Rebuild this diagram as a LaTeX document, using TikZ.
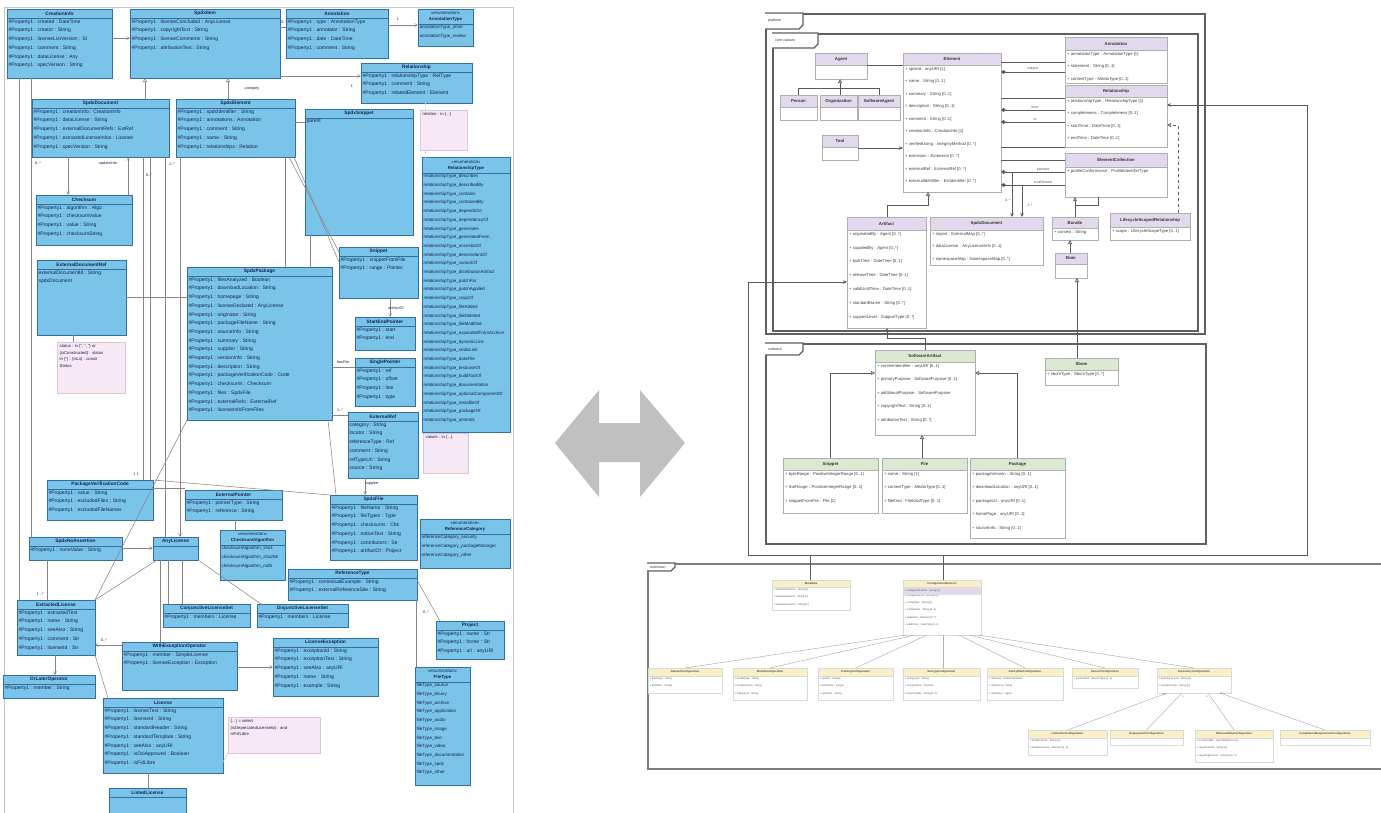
\documentclass[tikz,border=0pt]{standalone}
\usepackage{fontspec}
\setmainfont{Liberation Sans}
\usetikzlibrary{calc,arrows.meta}
\definecolor{lfill}{RGB}{122,196,234}
\definecolor{ldraw}{RGB}{48,112,166}
\definecolor{ltext}{RGB}{20,35,70}
\definecolor{nfill}{RGB}{246,232,244}
\definecolor{ndraw}{RGB}{222,196,218}
\definecolor{pfill}{RGB}{226,218,236}
\definecolor{gfill}{RGB}{218,234,210}
\definecolor{yfill}{RGB}{250,240,200}
\definecolor{rdraw}{RGB}{175,175,175}
\definecolor{frm}{RGB}{95,95,95}
\definecolor{lconn}{RGB}{140,132,132}
\definecolor{rconn}{RGB}{90,90,90}
\definecolor{bigarrow}{RGB}{192,192,192}
\tikzset{
  Lbox/.style={draw=ldraw, fill=lfill, line width=0.7pt, inner sep=0pt, outer sep=0pt},
  Lhead/.style={draw=ldraw, line width=0.7pt},
  Ltitle/.style={font=\fontsize{4.8}{5.6}\selectfont\bfseries, text=ltext, align=center, inner sep=0pt},
  Lattr/.style={font=\fontsize{5}{8.7}\selectfont, text=ltext, align=left, inner sep=1.4pt},
  Ebox/.style={Lbox}, Ehead/.style={Lhead},
  Etitle/.style={Ltitle, font=\fontsize{4.4}{6}\selectfont\bfseries},
  Eattr/.style={Lattr, font=\fontsize{4.5}{8.7}\selectfont},
  Pbox/.style={draw=rdraw, fill=white, line width=0.6pt, inner sep=0pt, outer sep=0pt},
  Phead/.style={draw=rdraw, fill=pfill, line width=0.6pt},
  Ptitle/.style={font=\fontsize{4.3}{5}\selectfont\bfseries, text=black!80, inner sep=0pt},
  Pattr/.style={font=\fontsize{4.2}{12.5}\selectfont, text=black!75, align=left, inner sep=2pt},
  Qbox/.style={Pbox}, Qhead/.style={Phead}, Qtitle/.style={Ptitle},
  Qattr/.style={Pattr, font=\fontsize{4.2}{13.8}\selectfont},
  Gbox/.style={Pbox}, Ghead/.style={Phead, fill=gfill}, Gtitle/.style={Ptitle},
  Gattr/.style={Pattr, font=\fontsize{4.2}{13.5}\selectfont},
  Ybox/.style={Pbox, line width=0.4pt, draw=black!15},
  Yhead/.style={fill=yfill, draw=black!15, line width=0.4pt},
  Ytitle/.style={font=\fontsize{2.8}{3}\selectfont\bfseries, text=black!70, inner sep=0pt},
  Yattr/.style={font=\fontsize{2.6}{7.4}\selectfont, text=black!65, align=left, inner sep=1.5pt},
  note/.style={draw=ndraw, fill=nfill, line width=0.5pt, inner sep=0pt},
  ntext/.style={font=\fontsize{4.2}{6.5}\selectfont, text=ltext, align=left, inner sep=2.5pt},
  lc/.style={draw=lconn, line width=0.55pt},
  lbarb/.style={-{Straight Barb[length=3pt,width=3pt]}},
  ltri/.style={-{Triangle[open,length=4pt,width=4pt]}},
  lab/.style={font=\fontsize{3.8}{4}\selectfont, text=ltext, inner sep=0.5pt},
  rc/.style={draw=rconn, line width=0.7pt},
  rtri/.style={-{Triangle[open,length=4pt,width=4pt]}},
  rarr/.style={-{Stealth[length=4pt,width=3.5pt]}},
  rdia/.style={{Diamond[length=5pt,width=4pt]}-},
  rlab/.style={font=\fontsize{3.4}{4}\selectfont, text=black!70, inner sep=0.5pt},
  pkgframe/.style={draw=frm, line width=1.6pt, inner sep=0pt},
  tabtext/.style={font=\fontsize{3.6}{4}\selectfont, text=black!80, inner sep=0pt},
  yc/.style={draw=black!30, line width=0.5pt},
}
% name, x, y, w, h, header height, style prefix, title, lines
\newcommand{\ubox}[9]{%
  \node[#7box, anchor=north west, minimum width=#4pt, minimum height=#5pt] (#1) at (#2,#3) {};
  \path[#7head] (#1.north west) rectangle ([yshift=-#6pt]#1.north east);
  \node[#7title] (#1t) at ([yshift=-#6pt/2]#1.north) {#8};
  \node[#7attr, anchor=north west] (#1a) at ([yshift=-#6pt]#1.north west) {#9};
}
% name, x, y, w, h, text
\newcommand{\pkgtab}[6]{%
  \draw[draw=frm, line width=1.1pt, fill=white] (#2,#3) -- ++(#4,0) -- ++(0,#5-4) -- ++(-4,4) -- (#2,#3+#5);
  \node[tabtext, anchor=west] (#1) at (#2+3,#3+#5/2) {#6};
}
\begin{document}
\begin{tikzpicture}[x=1pt,y=-1pt]
\useasboundingbox (0,0) rectangle (1381,812);
\fill[white] (0,0) rectangle (1381,812);

% ================= LEFT DIAGRAM =================
\node[draw=black!22, line width=0.6pt, minimum width=509pt, minimum height=812pt, anchor=north west, inner sep=0pt] (leftframe) at (4,7) {};

\ubox{b1}{7}{9}{105}{69}{9}{L}{CreationInfo}{\#Property1 : created : DateTime\\\#Property1 : creator : String\\\#Property1 : licenseListVersion : St\\\#Property1 : comment : String\\\#Property1 : dataLicense : Any\\\#Property1 : specVersion : String}
\ubox{b2}{130}{9}{150}{69}{9}{L}{SpdxItem}{\#Property1 : licenseConcluded : AnyLicense\\\#Property1 : copyrightText : String\\\#Property1 : licenseComments : String\\\#Property1 : attributionText : String}
\ubox{b3}{286}{9}{102}{49}{9}{L}{Annotation}{\#Property1 : type : AnnotationType\\\#Property1 : annotator : String\\\#Property1 : date : DateTime\\\#Property1 : comment : String}
\ubox{b4}{418}{9}{55}{37}{15}{E}{{\mdseries «enumeration»}\\AnnotationType}{annotationType\_other\\annotationType\_review}
\ubox{b5}{361}{63}{111}{40}{9}{L}{Relationship}{\#Property1 : relationshipType : RelType\\\#Property1 : comment : String\\\#Property1 : relatedElement : Element}
\ubox{b6}{32}{99}{137}{58}{9}{L}{SpdxDocument}{\#Property1 : creationInfo : CreationInfo\\\#Property1 : dataLicense : String\\\#Property1 : externalDocumentRefs : ExtRef\\\#Property1 : extractedLicenseInfos : License\\\#Property1 : specVersion : String}
\ubox{b7}{176}{99}{119}{58}{9}{L}{SpdxElement}{\#Property1 : spdxIdentifier : String\\\#Property1 : annotations : Annotation\\\#Property1 : comment : String\\\#Property1 : name : String\\\#Property1 : relationships : Relation}
\ubox{b8}{305}{109}{108}{126}{9}{L}{SpdxSnippet}{parent}
\ubox{b9}{422}{157}{88}{275}{16}{E}{{\mdseries «enumeration»}\\RelationshipType}{relationshipType\_describes\\relationshipType\_describedBy\\relationshipType\_contains\\relationshipType\_containedBy\\relationshipType\_dependsOn\\relationshipType\_dependencyOf\\relationshipType\_generates\\relationshipType\_generatedFrom\\relationshipType\_ancestorOf\\relationshipType\_descendantOf\\relationshipType\_variantOf\\relationshipType\_distributionArtifact\\relationshipType\_patchFor\\relationshipType\_patchApplied\\relationshipType\_copyOf\\relationshipType\_fileAdded\\relationshipType\_fileDeleted\\relationshipType\_fileModified\\relationshipType\_expandedFromArchive\\relationshipType\_dynamicLink\\relationshipType\_staticLink\\relationshipType\_dataFile\\relationshipType\_testcaseOf\\relationshipType\_buildToolOf\\relationshipType\_documentation\\relationshipType\_optionalComponentOf\\relationshipType\_metafileOf\\relationshipType\_packageOf\\relationshipType\_amends}
\ubox{b11}{36}{195}{96}{50}{9}{L}{Checksum}{\#Property1 : algorithm : Algo\\\#Property1 : checksumValue\\\#Property1 : value : String\\\#Property1 : checksumString}
\ubox{b12}{37}{260}{89}{75}{9}{L}{ExternalDocumentRef}{externalDocumentId : String\\spdxDocument}
\ubox{b14}{187}{267}{145}{153}{9}{L}{SpdxPackage}{\#Property1 : filesAnalyzed : Boolean\\\#Property1 : downloadLocation : String\\\#Property1 : homepage : String\\\#Property1 : licenseDeclared : AnyLicense\\\#Property1 : originator : String\\\#Property1 : packageFileName : String\\\#Property1 : sourceInfo : String\\\#Property1 : summary : String\\\#Property1 : supplier : String\\\#Property1 : versionInfo : String\\\#Property1 : description : String\\\#Property1 : packageVerificationCode : Code\\\#Property1 : checksums : Checksum\\\#Property1 : files : SpdxFile\\\#Property1 : externalRefs : ExternalRef\\\#Property1 : licenseInfoFromFiles}
\ubox{b15}{339}{247}{79}{51}{9}{L}{Snippet}{\#Property1 : snippetFromFile\\\#Property1 : range : Pointer}
\ubox{b16}{355}{317}{60}{33}{9}{L}{StartEndPointer}{\#Property1 : start\\\#Property1 : end}
\ubox{b17}{355}{358}{60}{48}{9}{L}{SinglePointer}{\#Property1 : ref\\\#Property1 : offset\\\#Property1 : line\\\#Property1 : type}
\ubox{b18}{348}{412}{70}{66}{9}{L}{ExternalRef}{category : String\\locator : String\\referenceType : Ref\\comment : String\\refTypeUri : String\\source : String}
\ubox{b20}{47}{480}{106}{40}{9}{L}{PackageVerificationCode}{\#Property1 : value : String\\\#Property1 : excludedFiles : String\\\#Property1 : excludedFileNames}
\ubox{b21}{185}{490}{97}{30}{9}{L}{ExternalPointer}{\#Property1 : pointerType : String\\\#Property1 : reference : String}
\ubox{b22}{29}{537}{93}{23}{9}{L}{SpdxNoAssertion}{\#Property1 : noneValue : String}
\ubox{b23}{153}{537}{45}{23}{9}{L}{AnyLicense}{}
\ubox{b24}{220}{530}{65}{50}{15}{E}{{\mdseries «enumeration»}\\ChecksumAlgorithm}{checksumAlgorithm\_sha1\\checksumAlgorithm\_sha256\\checksumAlgorithm\_md5}
\ubox{b25}{330}{495}{87}{65}{9}{L}{SpdxFile}{\#Property1 : fileName : String\\\#Property1 : fileTypes : Type\\\#Property1 : checksums : Chk\\\#Property1 : noticeText : String\\\#Property1 : contributors : Str\\\#Property1 : artifactOf : Project}
\ubox{b26}{420}{519}{90}{49}{15}{E}{{\mdseries «enumeration»}\\ReferenceCategory}{referenceCategory\_security\\referenceCategory\_packageManager\\referenceCategory\_other}
\ubox{b27}{288}{569}{129}{31}{9}{L}{ReferenceType}{\#Property1 : contextualExample : String\\\#Property1 : externalReferenceSite : String}
\ubox{b28}{17}{600}{78}{55}{9}{L}{ExtractedLicense}{\#Property1 : extractedText\\\#Property1 : name : String\\\#Property1 : seeAlso : String\\\#Property1 : comment : Str\\\#Property1 : licenseId : Str}
\ubox{b29}{163}{604}{87}{23}{9}{L}{ConjunctiveLicenseSet}{\#Property1 : members : License}
\ubox{b30}{257}{604}{91}{23}{9}{L}{DisjunctiveLicenseSet}{\#Property1 : members : License}
\ubox{b31}{122}{642}{115}{48}{9}{L}{WithExceptionOperator}{\#Property1 : member : SimpleLicense\\\#Property1 : licenseException : Exception}
\ubox{b32}{273}{638}{105}{58}{9}{L}{LicenseException}{\#Property1 : exceptionId : String\\\#Property1 : exceptionText : String\\\#Property1 : seeAlso : anyURI\\\#Property1 : name : String\\\#Property1 : example : String}
\ubox{b33}{436}{621}{68}{38}{9}{L}{Project}{\#Property1 : name : Str\\\#Property1 : home : Str\\\#Property1 : uri : anyURI}
\ubox{b34}{3}{675}{92}{23}{9}{L}{OrLaterOperator}{\#Property1 : member : String}
\ubox{b35}{103}{698}{120}{75}{9}{L}{License}{\#Property1 : licenseText : String\\\#Property1 : licenseId : String\\\#Property1 : standardHeader : String\\\#Property1 : standardTemplate : String\\\#Property1 : seeAlso : anyURI\\\#Property1 : isOsiApproved : Boolean\\\#Property1 : isFsfLibre}
\ubox{b37}{415}{667}{55}{118}{15}{E}{{\mdseries «enumeration»}\\FileType}{fileType\_source\\fileType\_binary\\fileType\_archive\\fileType\_application\\fileType\_audio\\fileType\_image\\fileType\_text\\fileType\_video\\fileType\_documentation\\fileType\_spdx\\fileType\_other}
\ubox{b38}{109}{788}{77}{30}{9}{L}{ListedLicense}{}

% notes
\node[note, anchor=north west, minimum width=47pt, minimum height=40pt] (n1) at (420,110) {};
\node[ntext, anchor=north west] (n1t) at (n1.north west) {relation : in \{...\}};
\node[note, anchor=north west, minimum width=68pt, minimum height=51pt] (n2) at (57,342) {};
\node[ntext, anchor=north west] (n2t) at (n2.north west) {status : in \{'', '', ''\} or\\\{isConstructed\} : status\\in \{''\} : \{isLs\} : constr\\Status};
\node[note, anchor=north west, minimum width=45pt, minimum height=40pt] (n3) at (423,433) {};
\node[ntext, anchor=north west] (n3t) at (n3.north west) {values : in \{...\}};
\node[note, anchor=north west, minimum width=92pt, minimum height=36pt] (n4) at (228,717) {};
\node[ntext, anchor=north west] (n4t) at (n4.north west) {\{...\} = select\\(isDeprecatedLicenseId) : and\\isFsfLibre};

% left connectors
\draw[lc, lbarb] (b1.east |- 0,38) -- (b2.west |- 0,38);
\draw[lc] (b2.east |- 0,27) -- (b3.west |- 0,27);
\node[lab] (l1) at (284,22) {0..*};
\draw[lc, lbarb] (b3.east |- 0,25) -- (b4.west |- 0,25);
\node[lab] (l2) at (398,19) {1};
\draw[lc, lbarb] (b2.east |- 0,76) -- (b5.west |- 0,76);
\node[lab] (l3) at (352,86) {1};
\draw[lc, ltri] (b6.north -| 145,0) -- (b2.south -| 145,0);
\draw[lc, ltri] (b7.north -| 228,0) -- (b2.south -| 228,0);
\node[lab] (l4) at (252,89) {category};
\draw[lc] (b7.east |- 0,122) -- (b8.west |- 0,122);
\draw[draw=ndraw, line width=0.6pt, dashed] (b5.south -| 425,0) -- (n1.north -| 425,0);
\draw[draw=ndraw, line width=0.6pt, dashed] (n1.south -| 425,0) -- (b9.north -| 425,0);
\draw[lc, lbarb] (b6.south -| 68,0) -- (b11.north -| 68,0);
\draw[lc, lbarb] (b11.north -| 128,0) -- (b6.south -| 128,0);
\node[lab] (l5) at (108,164) {updateInfo};
\node[lab] (l6) at (38,163) {0..*};
\draw[lc] (b6.south -| 143,0) -- (b20.north -| 143,0);
\draw[lc] (b6.south -| 150,0) -- (b20.north -| 150,0);
\node[lab] (l7) at (149,175) {0..*};
\node[lab] (l8) at (136,474) {1 1};
\draw[lc] (b6.south -| 165,0) -- (b23.north -| 165,0);
\draw[lc, lbarb] (b7.south -| 180,0) -- (b23.north -| 180,0);
\node[lab] (l9) at (172,164) {1..*};
\draw[lc] (b1.south -| 19,0) -- (b28.north -| 19,0);
\draw[lc] (b1.south -| 31,0) -- (b22.north -| 31,0);
\draw[lc] (b12.east |- 0,297) -- (b14.west |- 0,297);
\draw[lc] (b7.south -| 285,0) -- (b14.north -| 285,0);
\draw[lc] (b8.south -| 310,0) -- (b14.north -| 310,0);
\draw[lc] ($(b7.south east)+(-1,0)$) -- (b15.west |- 0,262);
\draw[lc] ($(b7.south east)+(-6,0)$) -- (b15.west |- 0,252);
\draw[lc] (b14.east |- 0,367) -- (b17.west |- 0,367);
\node[lab] (l10) at (343,362) {hasFile};
\draw[lc] (b14.east |- 0,415) -- (b18.west |- 0,415);
\node[lab] (l11) at (340,410) {1..*};
\draw[lc, lbarb] (b15.south -| 390,0) -- (b16.north -| 390,0);
\node[lab] (l12) at (396,308) {artifactOf};
\draw[lc] (b12.south -| 73,0) -- (n2.north -| 73,0);
\draw[lc] (b14.south west) -- (b28.north east);
\draw[lc] (b20.north east) -- (b25.north west);
\draw[lc] ($(b14.south east)+(-4,0)$) -- ($(b25.north west)+(6,0)$);
\draw[lc, lbarb] (b18.south -| 365,0) -- (b25.north -| 365,0);
\node[lab] (l13) at (372,484) {supplier};
\draw[lc] (b20.east |- 0,488) -- (b21.west |- 0,488);
\draw[lc] (b21.south -| 235,0) -- (b24.north -| 235,0);
\draw[lc, lbarb] (b22.east |- 0,548) -- (b23.west |- 0,548);
\draw[lc] (b22.south -| 47,0) -- (b28.north -| 47,0);
\draw[lc] (b23.south -| 157,0) -- (b28.north east);
\draw[lc] (b23.south -| 168,0) -- (b29.north -| 168,0);
\draw[lc] (b23.south -| 182,0) -- (b29.north -| 182,0);
\draw[lc] (b23.south east) -- ($(b30.north west)+(4,0)$);
\draw[lc] (b23.south -| 160,0) -- (b31.north -| 160,0);
\node[lab] (l14) at (40,594) {1 ..*};
\draw[lc, lbarb] (b31.west |- 0,645) -- (b28.east |- 0,645);
\node[lab] (l15) at (104,640) {0..*};
\draw[lc, lbarb] (b28.south -| 55,0) -- (b34.north -| 55,0);
\draw[lc] (b28.south east) -- ($(b35.north west)+(5,0)$);
\draw[lc, lbarb] (b31.east |- 0,667) -- (b32.west |- 0,667);
\draw[lc] (b35.south -| 148,0) -- (b38.north -| 148,0);
\draw[draw=ndraw, line width=0.6pt] (b35.east |- 0,762) -- (n4.south west);
\draw[lc] (b27.east |- 0,580) -- (b33.north -| 440,0);
\node[lab] (l16) at (426,612) {0..*};
\draw[lc] (b27.south -| 416,0) -- (b37.north -| 416,0);

% ================= BIG DOUBLE ARROW =================
\fill[bigarrow] (555,443) -- (599,390) -- (599,423) -- (640,423) -- (640,390) -- (685,443) -- (640,497) -- (640,462) -- (599,462) -- (599,497) -- cycle;

% ================= RIGHT DIAGRAM =================
\node[pkgframe, anchor=north west, minimum width=439pt, minimum height=320pt] (platform) at (765,13) {};
\node[pkgframe, anchor=north west, minimum width=425pt, minimum height=297pt] (core) at (772,33) {};
\node[pkgframe, anchor=north west, minimum width=440pt, minimum height=200pt] (swpkg) at (765,343) {};
\node[pkgframe, anchor=north west, minimum width=760pt, minimum height=205pt, draw=frm!80] (extpkg) at (647,563) {};
\pkgtab{tab1}{765}{13}{38}{16}{platform}
\pkgtab{tab2}{772}{33}{46}{15}{core classes}
\pkgtab{tab3}{765}{343}{38}{12}{software}
\pkgtab{tab4}{647}{563}{28}{8}{extension}

\ubox{agent}{815}{53}{52}{26}{12}{P}{Agent}{}
\ubox{person}{780}{95}{37}{25}{12}{P}{Person}{}
\ubox{org}{820}{95}{37}{25}{12}{P}{Organization}{}
\ubox{swagent}{858}{95}{42}{25}{12}{P}{SoftwareAgent}{}
\ubox{tool}{822}{135}{36}{25}{12}{P}{Tool}{}
\ubox{elem}{903}{53}{98}{139}{12}{P}{Element}{+ spdxId : anyURI [1]\\+ name : String [0..1]\\+ summary : String [0..1]\\+ description : String [0..1]\\+ comment : String [0..1]\\+ creationInfo : CreationInfo [1]\\+ verifiedUsing : IntegrityMethod [0..*]\\+ extension : Extension [0..*]\\+ externalRef : ExternalRef [0..*]\\+ externalIdentifier : ExtIdentifier [0..*]}
\ubox{annot}{1065}{37}{102}{46}{13}{P}{Annotation}{+ annotationType : AnnotationType [1]\\+ statement : String [0..1]\\+ contentType : MediaType [0..1]}
\ubox{rel}{1065}{85}{102}{62}{12}{P}{Relationship}{+ relationshipType : RelationshipType [1]\\+ completeness : Completeness [0..1]\\+ startTime : DateTime [0..1]\\+ endTime : DateTime [0..1]}
\ubox{ecol}{1065}{153}{102}{44}{14}{P}{ElementCollection}{+ profileConformance : ProfileIdentifierType}
\ubox{artifact}{847}{217}{79}{111}{13}{Q}{Artifact}{+ originatedBy : Agent [0..*]\\+ suppliedBy : Agent [0..*]\\+ builtTime : DateTime [0..1]\\+ releaseTime : DateTime [0..1]\\+ validUntilTime : DateTime [0..1]\\+ standardName : String [0..*]\\+ supportLevel : SupportType [0..*]}
\ubox{sdoc}{930}{217}{113}{48}{13}{P}{SpdxDocument}{+ import : ExternalMap [0..*]\\+ dataLicense : AnyLicenseInfo [0..1]\\+ namespaceMap : NamespaceMap [0..*]}
\ubox{bundle}{1052}{217}{46}{23}{11}{P}{Bundle}{+ context : String}
\ubox{bom}{1055}{253}{32}{25}{11}{P}{Bom}{}
\ubox{lsr}{1110}{213}{80}{27}{14}{P}{LifecycleScopedRelationship}{+ scope : LifecycleScopeType [0..1]}

\ubox{swa}{875}{350}{100}{85}{12}{G}{SoftwareArtifact}{+ contentIdentifier : anyURI [0..1]\\+ primaryPurpose : SoftwarePurpose [0..1]\\+ additionalPurpose : SoftwarePurpose\\+ copyrightText : String [0..1]\\+ attributionText : String [0..*]}
\ubox{sbom}{1045}{358}{73}{27}{12}{G}{Sbom}{+ sbomType : SbomType [0..*]}
\ubox{snip}{783}{458}{95}{55}{12}{G}{Snippet}{+ byteRange : PositiveIntegerRange [0..1]\\+ lineRange : PositiveIntegerRange [0..1]\\+ snippetFromFile : File [1]}
\ubox{file}{882}{458}{85}{55}{12}{G}{File}{+ name : String [1]\\+ contentType : MediaType [0..1]\\+ fileKind : FileKindType [0..1]}
\ubox{pkg}{970}{458}{95}{80}{12}{G}{Package}{+ packageVersion : String [0..1]\\+ downloadLocation : anyURI [0..1]\\+ packageUrl : anyURI [0..1]\\+ homePage : anyURI [0..1]\\+ sourceInfo : String [0..1]}

% extension package classes
\ubox{ya}{772}{580}{78}{30}{7}{Y}{Metadata}{+ metadataVersion : String [1]\\+ metadataSource : String [1]\\+ metadataLicense : String [1]}
\ubox{yb}{903}{580}{78}{55}{7}{Y}{ConfigurationElement}{\mbox{}\\+ configurationId : anyURI [1]\\+ configType : String [1]\\+ configValue : String [0..1]\\+ appliesTo : Element [0..*]\\+ validFrom : DateTime [0..1]}
\fill[pfill] ($(yb.north west)+(0.5,7.5)$) rectangle ($(yb.north east)+(-0.5,14.5)$);
\node[Yattr, anchor=west] (ybh) at ($(yb.north west)+(0,11)$) {+ configurationKind : String [1]};
\ubox{c1}{648}{668}{74}{25}{8}{Y}{DatasetConfiguration}{+ dataType : String\\+ dataSize : Integer}
\ubox{c2}{733}{668}{74}{32}{8}{Y}{ModelConfiguration}{+ modelType : String\\+ modelVersion : String\\+ framework : String}
\ubox{c3}{818}{668}{75}{32}{8}{Y}{TrainingConfiguration}{+ epochs : Integer\\+ batchSize : Integer\\+ optimizer : String}
\ubox{c4}{903}{668}{77}{32}{8}{Y}{EnergyConfiguration}{+ energyUnit : String\\+ energyValue : Decimal\\+ measuredBy : String [0..1]}
\ubox{c5}{987}{668}{76}{32}{8}{Y}{SafetyRiskConfiguration}{+ riskLevel : RiskAssessment\\+ riskSource : String\\+ riskOwner : Agent}
\ubox{c6}{1072}{668}{66}{20}{8}{Y}{SensorConfiguration}{+ sensorKind : SensorType [0..1]}
\ubox{c7}{1157}{668}{74}{25}{8}{Y}{AutonomyConfiguration}{+ autonomyLevel : String [1]\\+ humanInLoop : String [1]}
\ubox{d1}{1028}{730}{79}{25}{8}{Y}{LimitationConfiguration}{+ limitationKind : String [1]\\+ limitationScope : Element [0..1]}
\ubox{d2}{1110}{730}{73}{15}{8}{Y}{DeploymentConfiguration}{}
\ubox{d3}{1195}{730}{78}{32}{8}{Y}{ObservabilityConfiguration}{+ monitoredBy : AgentReference [1]\\+ reportFormat : String [1]\\+ reportingInterval : Duration [0..1]}
\ubox{d4}{1280}{730}{90}{15}{8}{Y}{ComplianceRequirementConfiguration}{}

% right connectors
\coordinate (gj) at (840,88);
\draw[rc] (person.north) |- (gj);
\draw[rc] (swagent.north) |- (gj);
\draw[rc, rtri] (org.north -| 840,0) -- (agent.south -| 840,0);
\draw[rc] (agent.east |- 0,65) -- (elem.west |- 0,65);
\draw[rc, rarr] (tool.east |- 0,148) -- (elem.west |- 0,148);
\draw[rc] (elem.east |- 0,62) -- (annot.west |- 0,62);
\draw[rc, rdia] (elem.east |- 0,72) -- (annot.west |- 0,72);
\node[rlab] (r1) at (1033,69) {subject};
\draw[rc] (elem.east |- 0,98) -- (rel.west |- 0,98);
\draw[rc, rdia] (elem.east |- 0,110) -- (rel.west |- 0,110);
\node[rlab] (r2) at (1035,107) {from};
\draw[rc, rdia] (elem.east |- 0,122) -- (rel.west |- 0,122);
\node[rlab] (r3) at (1035,119) {to};
\draw[rc] (elem.east |- 0,147) -- (rel.west |- 0,147);
\draw[rc] (elem.east |- 0,160) -- (ecol.west |- 0,160);
\draw[rc, rdia] (elem.east |- 0,172) -- (ecol.west |- 0,172);
\node[rlab] (r4) at (1043,169) {element};
\draw[rc, rdia] (elem.east |- 0,185) -- (ecol.west |- 0,185);
\node[rlab] (r5) at (1043,182) {rootElement};
\coordinate (j1) at (1012,172);
\coordinate (j2) at (1022,185);
\draw[rc, rarr] (j1) -- (sdoc.north -| j1);
\draw[rc, rarr] (j2) -- (sdoc.north -| j2);
\node[rlab] (r6) at (1008,200) {0..*};
\node[rlab] (r7) at (1030,205) {1..*};
\coordinate (j3) at (928,205);
\draw[rc, rtri] (artifact.north -| 887,0) |- (j3) -- (elem.south -| j3);
\draw[rc, rtri] (bundle.north -| 1075,0) -- (ecol.south -| 1075,0);
\coordinate (j4) at (1075,205);
\draw[rc] (ecol.south -| 1098,0) |- (j4);
\draw[rc, rtri] (bom.north -| 1070,0) -- (bundle.south -| 1070,0);
\draw[rc, dashed, rtri] (lsr.north -| 1178,0) |- (rel.east |- 0,125);
\draw[rc, rtri] (sbom.north -| 1077,0) -- (bom.south -| 1077,0);
\coordinate (j5) at (925,338);
\draw[rc, rtri] (swa.north -| j5) -- (j5) -| (artifact.south -| 887,0);
\draw[rc, rtri] (snip.north -| 830,0) |- (swa.west |- 0,373);
\draw[rc, rtri] (pkg.north -| 1017,0) |- (swa.east |- 0,373);
\draw[rc, rtri] (file.north -| 922,0) -- (swa.south -| 922,0);
\coordinate (j6) at (748,555);
\coordinate (j7) at (1307,555);
\draw[rc, rarr] (yb.north -| 943,0) -- (943,555) -- (j6) |- (artifact.west |- 0,282);
\draw[rc, rarr] (ya.north -| 810,0) -- (810,555) -- (j7) |- (rel.east |- 0,105);

% extension package connectors
\draw[yc] (c1.north) -- ($(yb.south west)+(3,0)$);
\draw[yc] (c2.north) -- ($(yb.south west)+(12,0)$);
\draw[yc] (c3.north) -- ($(yb.south west)+(24,0)$);
\draw[yc] (c4.north -| 943,0) -- (yb.south -| 943,0);
\draw[yc] (c5.north) -- ($(yb.south east)+(-22,0)$);
\draw[yc] (c6.north) -- ($(yb.south east)+(-12,0)$);
\draw[yc] (c7.north) -- ($(yb.south east)+(-3,0)$);
\draw[yc] (d1.north) -- ($(c7.south west)+(10,0)$);
\draw[yc] (d2.north) -- ($(c7.south west)+(25,0)$);
\draw[yc] (d3.north) -- ($(c7.south west)+(51,0)$);
\draw[yc] (d4.north) -- ($(c7.south west)+(63,0)$);
\node[rlab, font=\fontsize{2.6}{3}\selectfont] (y1) at (1165,695) {0..*};
\node[rlab, font=\fontsize{2.6}{3}\selectfont] (y2) at (1183,697) {1};
\node[rlab, font=\fontsize{2.6}{3}\selectfont] (y3) at (1207,697) {1};
\node[rlab, font=\fontsize{2.6}{3}\selectfont] (y4) at (1222,694) {0..*};
\end{tikzpicture}
\end{document}
